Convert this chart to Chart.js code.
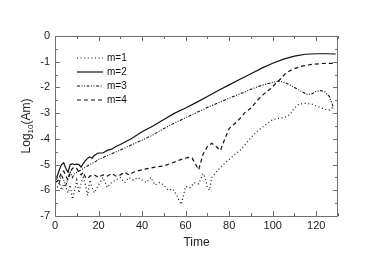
<!DOCTYPE html>
<html>
<head>
<meta charset="utf-8">
<script src="https://cdn.jsdelivr.net/npm/chart.js@4"></script>
<style>
  html, body { margin: 0; padding: 0; background: #fff; }
  #wrap { width: 373px; height: 255px; }
</style>
</head>
<body>
<div id="wrap"><canvas id="grafico" width="373" height="255"></canvas></div>
<script>
// datos
const seriesNames = ['m=1', 'm=2', 'm=3', 'm=4'];

const t1 = [0,1,2,3,4,5,6,7,8,9,10,11,12,13,14,15,16,17,18,20,22,24,26,28,30,32,34,36,38,40,42,44,46,48,50,52,54,56,57,58,59,60,62,64,66,68,69,70,71,72,74,76,78,80,82,85,88,90,93,96,100,103,106,108,110,112,115,118,121,124,126,128];
const v1 = [-5.8,-5.9,-5.7,-6.0,-5.75,-5.9,-6.1,-5.8,-6.35,-6.0,-5.6,-6.1,-5.7,-5.5,-5.8,-6.2,-5.6,-5.9,-6.1,-5.8,-5.5,-5.9,-5.7,-5.6,-5.5,-5.7,-5.5,-5.6,-5.5,-5.6,-5.7,-5.5,-5.8,-5.7,-5.8,-6.0,-5.95,-6.2,-6.4,-6.55,-6.2,-5.85,-5.9,-5.7,-5.75,-5.35,-5.5,-5.9,-6.0,-5.5,-5.3,-5.1,-4.95,-4.8,-4.65,-4.45,-4.15,-3.95,-3.7,-3.5,-3.25,-3.2,-3.15,-3.05,-2.8,-2.65,-2.62,-2.65,-2.75,-2.85,-2.88,-2.75];

const t2 = [0,1,2,3,4,5,6,7,8,9,10,11,12,13,14,15,16,17,18,20,22,24,26,28,30,35,40,45,50,55,60,65,70,75,80,85,90,95,100,105,110,115,120,125,129];
const v2 = [-5.6,-5.45,-5.2,-5.0,-4.93,-5.15,-5.3,-5.0,-4.97,-5.0,-4.98,-5.0,-5.1,-4.95,-4.85,-4.75,-4.7,-4.75,-4.65,-4.55,-4.55,-4.45,-4.4,-4.3,-4.22,-4.0,-3.72,-3.5,-3.25,-3.0,-2.8,-2.58,-2.35,-2.12,-1.9,-1.68,-1.47,-1.25,-1.06,-0.9,-0.78,-0.71,-0.69,-0.69,-0.7];

const t3 = [0,1,2,3,4,5,6,7,8,9,10,12,14,16,18,20,25,30,35,40,45,50,55,60,65,70,75,80,85,90,95,100,103,106,110,113,116,118,120,122,124,126,128];
const v3 = [-5.65,-5.5,-5.7,-5.4,-5.6,-5.8,-5.5,-5.3,-5.5,-5.35,-5.3,-5.2,-5.1,-5.0,-4.92,-4.8,-4.62,-4.43,-4.24,-4.05,-3.85,-3.6,-3.38,-3.18,-2.98,-2.78,-2.6,-2.42,-2.25,-2.07,-1.92,-1.8,-1.75,-1.82,-2.0,-2.15,-2.28,-2.25,-2.15,-2.12,-2.18,-2.35,-2.8];

const t4 = [0,1,2,3,4,5,6,7,8,9,10,11,12,13,14,15,16,18,20,22,24,26,28,30,32,34,36,38,40,43,46,50,54,58,61,63,64,66,68,70,72,74,76,78,80,82,84,87,90,93,96,99,103,106,109,113,118,123,129];
const v4 = [-5.7,-5.65,-5.5,-5.3,-5.25,-5.45,-5.6,-5.3,-5.15,-5.1,-5.15,-5.3,-5.4,-5.3,-5.5,-5.55,-5.45,-5.4,-5.5,-5.4,-5.45,-5.35,-5.45,-5.4,-5.3,-5.4,-5.3,-5.25,-5.2,-5.15,-5.1,-5.05,-4.93,-4.8,-4.72,-4.75,-4.9,-5.2,-4.6,-4.3,-4.17,-4.3,-4.45,-4.0,-3.6,-3.45,-3.3,-3.0,-2.8,-2.5,-2.25,-2.05,-1.72,-1.45,-1.3,-1.18,-1.1,-1.07,-1.06];

const xTicks = [0, 20, 40, 60, 80, 100, 120];
const yTicks = [0, -1, -2, -3, -4, -5, -6, -7];

const estilos = [
  { dash: [1, 2.6], width: 1.2 },
  { dash: [], width: 1.2 },
  { dash: [3, 1.5, 1, 1.5, 1, 1.5], width: 1.1 },
  { dash: [4, 3], width: 1.2 }
];

const pares = (ts, vs) => ts.map((t, i) => ({ x: t, y: vs[i] }));
const datos = [pares(t1, v1), pares(t2, v2), pares(t3, v3), pares(t4, v4)];

const FUENTE = '"Liberation Sans", Arial, sans-serif';

// marco, marcas internas, leyenda y títulos
const marco = {
  id: 'marco',
  afterDraw(chart) {
    const { ctx, chartArea: a, scales } = chart;
    const x = scales.x, y = scales.y;
    ctx.save();
    ctx.strokeStyle = '#707070';
    ctx.lineWidth = 1;
    ctx.setLineDash([]);
    ctx.strokeRect(a.left + 0.5, a.top + 0.5, a.right - a.left - 1, a.bottom - a.top);
    ctx.beginPath();
    for (let v = 0; v <= 130; v += 10) {
      const px = Math.round(x.getPixelForValue(v)) + 0.5;
      const l = v % 20 === 0 ? 5 : 3;
      ctx.moveTo(px, a.bottom); ctx.lineTo(px, a.bottom - l);
      ctx.moveTo(px, a.top); ctx.lineTo(px, a.top + l);
    }
    for (let v = -7; v <= 0; v += 0.5) {
      const py = Math.round(y.getPixelForValue(v)) + 0.5;
      const l = Number.isInteger(v) ? 5 : 3;
      ctx.moveTo(a.left, py); ctx.lineTo(a.left + l, py);
      ctx.moveTo(a.right, py); ctx.lineTo(a.right - l, py);
    }
    ctx.stroke();

    // leyenda
    ctx.strokeStyle = '#111';
    ctx.fillStyle = '#111';
    ctx.font = '10px ' + FUENTE;
    ctx.textBaseline = 'middle';
    seriesNames.forEach((n, i) => {
      const yy = 58 + i * 14;
      ctx.lineWidth = estilos[i].width;
      ctx.setLineDash(estilos[i].dash);
      ctx.beginPath(); ctx.moveTo(77, yy); ctx.lineTo(103, yy); ctx.stroke();
      ctx.fillText(n, 107, yy);
    });
    ctx.setLineDash([]);

    // título eje x
    ctx.fillStyle = '#222';
    ctx.font = '12px ' + FUENTE;
    ctx.textAlign = 'center';
    ctx.fillText('Time', (a.left + a.right) / 2, 243);

    // título eje y con subíndice
    ctx.translate(27, (a.top + a.bottom) / 2);
    ctx.rotate(-Math.PI / 2);
    ctx.textAlign = 'left';
    const p1 = 'Log', p2 = '10', p3 = '(Am)';
    ctx.font = '12px ' + FUENTE;
    const w1 = ctx.measureText(p1).width, w3 = ctx.measureText(p3).width;
    ctx.font = '8px ' + FUENTE;
    const w2 = ctx.measureText(p2).width;
    let cx = -(w1 + w2 + w3) / 2;
    ctx.font = '12px ' + FUENTE;
    ctx.fillText(p1, cx, 0); cx += w1;
    ctx.font = '8px ' + FUENTE;
    ctx.fillText(p2, cx, 4); cx += w2;
    ctx.font = '12px ' + FUENTE;
    ctx.fillText(p3, cx, 0);
    ctx.restore();
  }
};

new Chart(document.getElementById('grafico').getContext('2d'), {
  type: 'line',
  data: {
    datasets: datos.map((d, i) => ({
      label: seriesNames[i],
      data: d,
      borderColor: '#111',
      borderWidth: estilos[i].width,
      borderDash: estilos[i].dash,
      pointRadius: 0,
      tension: 0,
      fill: false
    }))
  },
  options: {
    responsive: false,
    animation: false,
    events: [],
    layout: { padding: { left: 0, top: 36, right: 35, bottom: 0 } },
    plugins: { legend: { display: false }, tooltip: { enabled: false } },
    scales: {
      x: {
        type: 'linear', min: 0, max: 130,
        grid: { display: false, drawTicks: false },
        border: { display: false },
        afterBuildTicks: s => { s.ticks = xTicks.map(v => ({ value: v })); },
        afterFit: s => { s.height = 39; },
        ticks: { padding: 3, color: '#222', font: { family: FUENTE, size: 11 }, maxRotation: 0, callback: v => String(v) }
      },
      y: {
        type: 'linear', min: -7, max: 0,
        grid: { display: false, drawTicks: false },
        border: { display: false },
        afterBuildTicks: s => { s.ticks = yTicks.slice().reverse().map(v => ({ value: v })); },
        afterFit: s => { s.width = 55; },
        ticks: { padding: 5, color: '#222', font: { family: FUENTE, size: 11 }, callback: v => String(v) }
      }
    }
  },
  plugins: [marco]
});
</script>
</body>
</html>
